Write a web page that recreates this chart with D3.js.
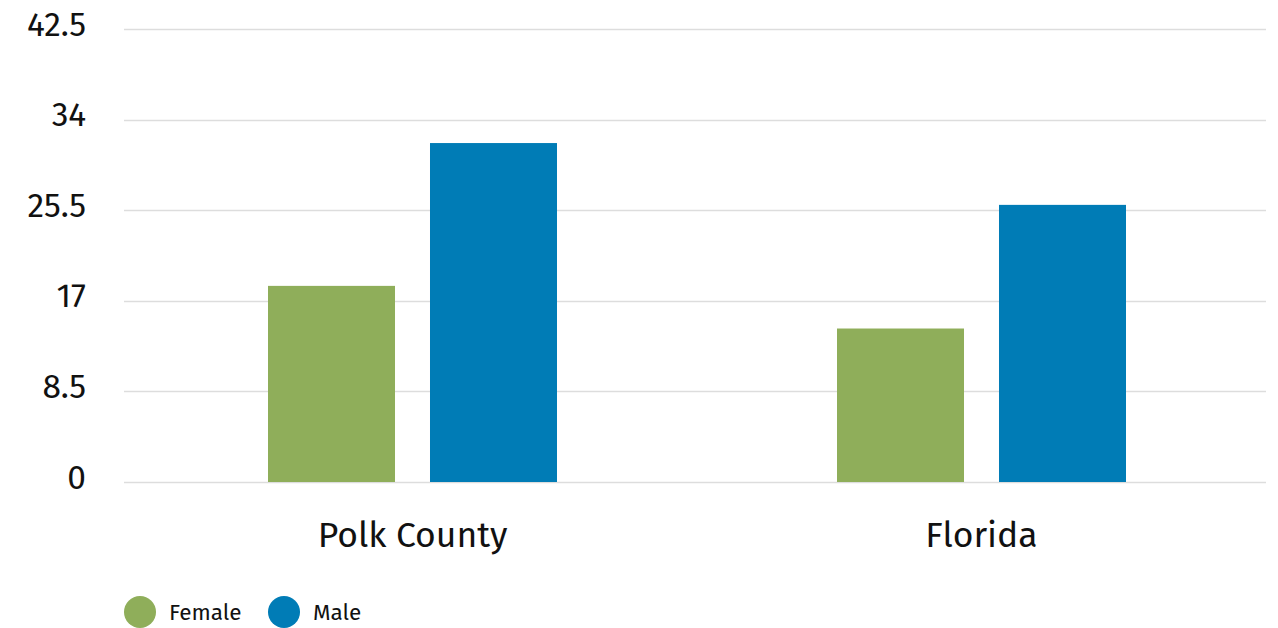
<!DOCTYPE html>
<html><head><meta charset="utf-8">
<script src="https://cdn.jsdelivr.net/npm/d3@7"></script>
<style>body{margin:0;background:#fff}svg{display:block}</style>
</head><body>
<script>
const categories = ["Polk County", "Florida"];
const seriesNames = ["Female", "Male"];
const female = [18.4, 14.4];
const male = [31.8, 26.0];
const yTicks = [0, 8.5, 17, 25.5, 34, 42.5];
const colors = ["#8FAE5A", "#007CB6"];

const W = 1278, H = 628;
const font = "'Fira Sans','Noto Sans',sans-serif";
const svg = d3.select("body").append("svg").attr("width", W).attr("height", H);

const y = d3.scaleLinear().domain([0, 42.5]).range([482, 29]);
const x0 = d3.scaleBand().domain(categories).range([128, 1266]).paddingInner(0).paddingOuter(0);
const x1 = d3.scaleBand().domain(seriesNames).range([0, 289]).paddingInner(0.216);

const grid = svg.append("g");
grid.selectAll("line").data(yTicks).join("line")
  .attr("x1", 124).attr("x2", 1266)
  .attr("y1", d => Math.round(y(d)) + 0.5).attr("y2", d => Math.round(y(d)) + 0.5)
  .attr("stroke", "#dddddd").attr("stroke-width", 1.5);

const yAxis = d3.axisLeft(y).tickValues(yTicks).tickSize(0).tickFormat(d => String(d));
const ya = svg.append("g").attr("transform", "translate(86,0)").call(yAxis);
ya.select(".domain").remove();
ya.selectAll("text").attr("font-family", font).attr("font-size", 33.5).attr("fill", "#111")
  .attr("dy", null).attr("y", 6).attr("x", 0);

const data = categories.map((c, i) => ({cat: c, vals: [female[i], male[i]]}));
const groups = svg.append("g").selectAll("g").data(data).join("g")
  .attr("transform", d => `translate(${x0(d.cat) + (x0.bandwidth() - 289) / 2},0)`);
groups.selectAll("rect").data(d => d.vals.map((v, j) => ({s: seriesNames[j], v, j})))
  .join("rect")
  .attr("x", d => x1(d.s)).attr("width", x1.bandwidth())
  .attr("y", d => y(d.v)).attr("height", d => y(0) - y(d.v))
  .attr("fill", d => colors[d.j]);

const xAxis = d3.axisBottom(x0).tickSize(0);
const xa = svg.append("g").attr("transform", "translate(0,482)").call(xAxis);
xa.select(".domain").remove();
xa.selectAll("text").attr("font-family", font).attr("font-size", 35.5).attr("fill", "#111")
  .attr("dy", null).attr("y", 65);

const legend = svg.append("g");
const lx = [140, 284];
const li = legend.selectAll("g").data(seriesNames).join("g")
  .attr("transform", (d, i) => `translate(${lx[i]},612)`);
li.append("circle").attr("r", 16).attr("fill", (d, i) => colors[i]);
li.append("text").attr("x", 29).attr("y", 8).text(d => d)
  .attr("font-family", font).attr("font-size", 22.5).attr("fill", "#111");
</script>
</body></html>
